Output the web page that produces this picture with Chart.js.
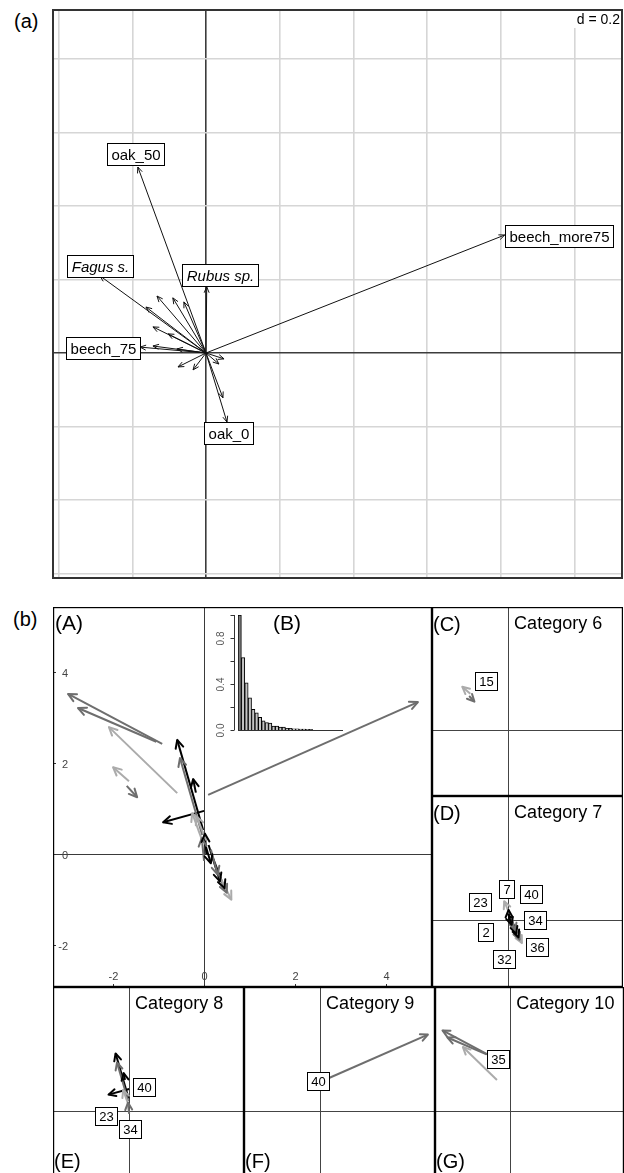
<!DOCTYPE html>
<html>
<head>
<meta charset="utf-8">
<script src="https://cdn.jsdelivr.net/npm/chart.js@4.4.0/dist/chart.umd.min.js"></script>
<style>
html,body{margin:0;padding:0;background:#fff;overflow:hidden;width:624px;height:1173px;}
#wrap{position:relative;width:624px;height:1173px;font-family:"Liberation Sans",Arial,sans-serif;color:#000;}
canvas{position:absolute;}
.plab{position:absolute;font-size:20px;line-height:20px;}
</style>
</head>
<body>
<div id="wrap">
  <div class="plab" style="left:14px;top:11px">(a)</div>
  <div class="plab" style="left:13px;top:609px">(b)</div>
  <canvas id="cA" width="571" height="570" style="left:52px;top:9px"></canvas>
  <canvas id="cMain" width="379" height="380" style="left:53px;top:607px"></canvas>
  <canvas id="cEig" width="145" height="135" style="left:205px;top:605px"></canvas>
  <canvas id="c6" width="191" height="189" style="left:432px;top:607px"></canvas>
  <canvas id="c7" width="191" height="191" style="left:432px;top:796px"></canvas>
  <canvas id="c8" width="191" height="190" style="left:53px;top:987px"></canvas>
  <canvas id="c9" width="191" height="190" style="left:244px;top:987px"></canvas>
  <canvas id="c10" width="189" height="190" style="left:435px;top:987px"></canvas>
</div>
<script>
// ================= DATA =================
// (a) correlation circle / biplot arrows
const biplotNames  = ["beech_more75", "oak_50", "Fagus s.", "Rubus sp.", "beech_75", "oak_0"];
const biplotTipX   = [0.811, -0.185, -0.288, 0.002, -0.179, 0.057];
const biplotTipY   = [0.321,  0.506,  0.210, 0.180,  0.016, -0.188];
const biplotLabelX = [0.958, -0.190, -0.288, 0.038, -0.280, 0.060];
const biplotLabelY = [0.318,  0.541,  0.237, 0.212,  0.014, -0.218];
const speciesNames = ["Fagus s.", "Rubus sp."];           // written in italics
const otherTipX = [-0.133, -0.090, -0.060, -0.163, -0.144, -0.103, -0.144, -0.079, -0.076, -0.035, 0.049, 0.046, 0.035];
const otherTipY = [ 0.155,  0.150,  0.139,  0.125,  0.071,  0.052,  0.019,  0.011, -0.038, -0.046, -0.016, -0.122, -0.030];
const gridTicksX = [-0.4, -0.2, 0, 0.2, 0.4, 0.6, 0.8, 1.0];
const gridTicksY = [-0.6, -0.4, -0.2, 0, 0.2, 0.4, 0.6, 0.8];
const gridLabel = "d = 0.2";

// (b) trajectories: category, period (1 light, 2 dark, 3 black), start and end
const trajCategory = [6, 6,  7, 7, 7, 7, 7, 7, 7, 7,  8, 8, 8, 8, 8, 8,  9,  10, 10, 10];
const trajPeriod   = [1, 2,  1, 3, 2, 3, 2, 1, 3, 3,  3, 2, 3, 3, 1, 2,  2,  2, 2, 1];
const trajX0 = [-1.65, -1.70,  0.05, 0.00, 0.15, 0.20, 0.30, 0.35, 0.10, 0.05,  -0.02, -0.04, 0.00, -0.18, -0.02, 0.00,  0.09,  -0.92, -1.05, -0.59];
const trajY0 = [ 1.60,  1.50,  0.30, 0.30, 0.10, -0.10, -0.40, -0.50, 0.20, 0.00,  0.53, 0.42, 0.95, 1.35, 0.24, -0.15,  1.30,  2.42, 2.47, 1.34];
const trajX1 = [-2.00, -1.47, -0.17, 0.15, 0.30, 0.45, 0.50, 0.60, 0.35, 0.02,  -0.59, -0.53, -0.90, -0.24, -0.26, -0.05,  4.70,  -2.99, -2.77, -2.09];
const trajY1 = [ 1.91,  1.25,  0.83, -0.20, -0.45, -0.75, -0.85, -1.00, -0.60, 0.45,  2.51, 2.11, 0.70, 1.65, 0.90, 0.35,  3.34,  3.52, 3.21, 2.79];

const categories = [6, 7, 8, 9, 10];
const panelLetters = ["(C)", "(D)", "(E)", "(F)", "(G)"];
const catLabelCategory = [6, 7, 7, 7, 7, 7, 7, 7, 8, 8, 8, 9, 10];
const catLabelText = ["15", "7", "40", "23", "34", "2", "36", "32", "40", "23", "34", "40", "35"];
const catLabelX = [-0.96, -0.07, 0.98, -1.24, 1.18, -0.98, 1.27, -0.17, 0.63, -1.00, 0.02, -0.09, -0.55];
const catLabelY = [ 2.14,  1.38, 1.16,  0.79, 0.02, -0.50, -1.18, -1.70, 1.05, -0.22, -0.81, 1.31, 2.25];

const axisTicksB = [-2, 0, 2, 4];
const rangeX = [-3.32, 5.01];
const rangeY = [-2.92, 5.43];

// (B) inset: eigenvalues
const eigenvalues = [1.0, 0.63, 0.41, 0.28, 0.18, 0.15, 0.11, 0.08, 0.065, 0.06, 0.035, 0.035, 0.025, 0.025, 0.015, 0.015, 0.01, 0.01, 0.008, 0.008, 0.006, 0.005, 0, 0, 0, 0, 0, 0, 0, 0, 0];
const eigenTicks = [0, 0.2, 0.4, 0.6, 0.8, 1.0];
const eigenTickLabels = ["0.0", "", "0.4", "", "0.8", ""];

// ================= HELPERS =================
const FONT = '"Liberation Sans", Arial, sans-serif';
const periodColors = {1: '#ababab', 2: '#6e6e6e', 3: '#000000'};

function arrowDataset(x0, y0, x1, y1, color, width) {
  return {data: [{x: x0, y: y0}, {x: x1, y: y1}], showLine: true, borderColor: color,
          borderWidth: width, pointRadius: 0, pointHoverRadius: 0, fill: false, tension: 0};
}

function arrowHeadsPlugin(len, angle) {
  return {id: 'arrowHeads', afterDatasetsDraw(chart) {
    const ctx = chart.ctx; ctx.save();
    chart.data.datasets.forEach((ds, i) => {
      const m = chart.getDatasetMeta(i);
      if (!m.data || m.data.length < 2) return;
      const a = m.data[0], b = m.data[1];
      const ang = Math.atan2(b.y - a.y, b.x - a.x);
      ctx.strokeStyle = ds.borderColor; ctx.lineWidth = ds.borderWidth;
      ctx.lineCap = 'round'; ctx.lineJoin = 'round';
      ctx.beginPath();
      ctx.moveTo(b.x - len * Math.cos(ang - angle), b.y - len * Math.sin(ang - angle));
      ctx.lineTo(b.x, b.y);
      ctx.lineTo(b.x - len * Math.cos(ang + angle), b.y - len * Math.sin(ang + angle));
      ctx.stroke();
    });
    ctx.restore();
  }};
}

function boxLabelsPlugin(items, size, padX, boxH) {
  return {id: 'boxLabels', afterDatasetsDraw(chart) {
    const {ctx, scales: {x, y}} = chart; ctx.save();
    items.forEach(it => {
      ctx.font = (it.italic ? 'italic ' : '') + size + 'px ' + FONT;
      const w = Math.round(ctx.measureText(it.text).width + padX * 2), h = boxH;
      const px = x.getPixelForValue(it.x), py = y.getPixelForValue(it.y);
      const l = Math.round(px - w / 2) + 0.5, t = Math.round(py - h / 2) + 0.5;
      ctx.fillStyle = '#fff'; ctx.fillRect(l, t, w, h);
      ctx.strokeStyle = '#000'; ctx.lineWidth = 1; ctx.strokeRect(l, t, w, h);
      ctx.fillStyle = '#000'; ctx.textAlign = 'center'; ctx.textBaseline = 'middle';
      ctx.fillText(it.text, l + w / 2, t + h / 2 + 1);
    });
    ctx.restore();
  }};
}

function framePlugin(width, color) {
  return {id: 'frame', afterDraw(chart) {
    const {ctx, chartArea: a} = chart; ctx.save();
    ctx.strokeStyle = color; ctx.lineWidth = width;
    ctx.strokeRect(a.left + width / 2, a.top + width / 2, a.right - a.left - width, a.bottom - a.top - width);
    ctx.restore();
  }};
}

function zeroAxesPlugin(color, width) {
  return {id: 'zeroAxes', beforeDatasetsDraw(chart) {
    const {ctx, chartArea: a, scales: {x, y}} = chart; ctx.save();
    ctx.strokeStyle = color; ctx.lineWidth = width;
    const px = Math.round(x.getPixelForValue(0)) + 0.5, py = Math.round(y.getPixelForValue(0)) + 0.5;
    ctx.beginPath(); ctx.moveTo(px, a.top); ctx.lineTo(px, a.bottom);
    ctx.moveTo(a.left, py); ctx.lineTo(a.right, py); ctx.stroke();
    ctx.restore();
  }};
}

// texts: {text, x, y, size, fromAxis}
function panelTextPlugin(texts) {
  return {id: 'panelText', afterDraw(chart) {
    const {ctx, chartArea: a, scales: {x}} = chart; ctx.save();
    ctx.fillStyle = '#000'; ctx.textAlign = 'left'; ctx.textBaseline = 'middle';
    texts.forEach(t => {
      ctx.font = t.size + 'px ' + FONT;
      const px = t.fromAxis ? x.getPixelForValue(0) + t.x : a.left + t.x;
      ctx.fillText(t.text, px, a.top + t.y);
    });
    ctx.restore();
  }};
}

function baseOptions(xmin, xmax, ymin, ymax) {
  return {
    responsive: false, animation: false, events: [],
    layout: {padding: 0},
    plugins: {legend: {display: false}, tooltip: {enabled: false}},
    scales: {
      x: {type: 'linear', display: false, min: xmin, max: xmax},
      y: {type: 'linear', display: false, min: ymin, max: ymax}
    }
  };
}

// ================= (a) =================
(function () {
  const datasets = [];
  otherTipX.forEach((v, i) => datasets.push(arrowDataset(0, 0, v, otherTipY[i], '#111', 1)));
  biplotTipX.forEach((v, i) => datasets.push(arrowDataset(0, 0, v, biplotTipY[i], '#111', 1)));
  const labels = biplotNames.map((n, i) => ({text: n, x: biplotLabelX[i], y: biplotLabelY[i], italic: speciesNames.includes(n)}));
  const gridColor = c => (c.tick && c.tick.value === 0) ? '#3c3c3c' : '#d6d6d6';
  const opts = {
    responsive: false, animation: false, events: [],
    layout: {padding: 0},
    plugins: {legend: {display: false}, tooltip: {enabled: false}},
    scales: {
      x: {type: 'linear', min: -0.418, max: 1.132,
          afterBuildTicks: s => { s.ticks = gridTicksX.map(v => ({value: v})); },
          afterFit: s => { s.height = 0; },
          ticks: {display: false}, border: {display: false},
          grid: {drawTicks: false, color: gridColor, lineWidth: 1.6}},
      y: {type: 'linear', min: -0.615, max: 0.936,
          afterBuildTicks: s => { s.ticks = gridTicksY.map(v => ({value: v})); },
          afterFit: s => { s.width = 0; },
          ticks: {display: false}, border: {display: false},
          grid: {drawTicks: false, color: gridColor, lineWidth: 1.6}}
    }
  };
  const dLabel = {id: 'dLabel', afterDraw(chart) {
    const {ctx, chartArea: a} = chart; ctx.save();
    ctx.font = '14px ' + FONT;
    const w = ctx.measureText(gridLabel).width;
    ctx.fillStyle = '#fff'; ctx.fillRect(a.right - w - 6, a.top + 2, w + 4, 17);
    ctx.fillStyle = '#000'; ctx.textAlign = 'right'; ctx.textBaseline = 'middle';
    ctx.fillText(gridLabel, a.right - 3, a.top + 11);
    ctx.restore();
  }};
  new Chart(document.getElementById('cA'), {
    type: 'scatter', data: {datasets}, options: opts,
    plugins: [arrowHeadsPlugin(6, 0.4), boxLabelsPlugin(labels, 15, 4, 22), dLabel, framePlugin(2, '#333')]
  });
})();

// ================= (b) panel A =================
(function () {
  const datasets = [];
  [1, 2, 3].forEach(p => trajPeriod.forEach((q, i) => {
    if (q === p) datasets.push(arrowDataset(trajX0[i], trajY0[i], trajX1[i], trajY1[i], periodColors[q], 2));
  }));
  const ticksPlugin = {id: 'ticksA', afterDraw(chart) {
    const {ctx, chartArea: a, scales: {x, y}} = chart; ctx.save();
    ctx.strokeStyle = '#333'; ctx.lineWidth = 1; ctx.fillStyle = '#444';
    ctx.font = '11px ' + FONT;
    axisTicksB.forEach(v => {
      const py = Math.round(y.getPixelForValue(v)) + 0.5;
      ctx.beginPath(); ctx.moveTo(a.left, py); ctx.lineTo(a.left + 3, py); ctx.stroke();
      ctx.textAlign = 'right'; ctx.textBaseline = 'middle';
      ctx.fillText(String(v), a.left + 15, py + 1);
      const px = Math.round(x.getPixelForValue(v)) + 0.5;
      ctx.beginPath(); ctx.moveTo(px, a.bottom); ctx.lineTo(px, a.bottom - 3); ctx.stroke();
      ctx.textAlign = 'center'; ctx.textBaseline = 'middle';
      ctx.fillText(String(v), px, a.bottom - 10);
    });
    ctx.restore();
  }};
  new Chart(document.getElementById('cMain'), {
    type: 'scatter', data: {datasets},
    options: baseOptions(rangeX[0], rangeX[1], rangeY[0], rangeY[1]),
    plugins: [zeroAxesPlugin('#3a3a3a', 1), arrowHeadsPlugin(9, 0.45), ticksPlugin,
              panelTextPlugin([{text: '(A)', x: 2, y: 17, size: 21}, {text: '(B)', x: 220, y: 17, size: 21}]),
              framePlugin(1.2, '#000')]
  });
})();

// ================= (B) eigenvalue inset =================
(function () {
  const axisPlugin = {id: 'eigAxis', afterDraw(chart) {
    const {ctx, chartArea: a, scales: {y}} = chart; ctx.save();
    const ax = Math.round(a.left - 4) + 0.5;
    ctx.strokeStyle = '#333'; ctx.lineWidth = 1;
    ctx.beginPath(); ctx.moveTo(ax, y.getPixelForValue(0)); ctx.lineTo(ax, y.getPixelForValue(eigenTicks[eigenTicks.length - 1])); ctx.stroke();
    const by = Math.round(y.getPixelForValue(0)) + 0.5;
    ctx.beginPath(); ctx.moveTo(a.left, by); ctx.lineTo(a.right, by); ctx.stroke();
    ctx.font = '10px ' + FONT; ctx.fillStyle = '#555'; ctx.textAlign = 'center'; ctx.textBaseline = 'middle';
    eigenTicks.forEach((v, i) => {
      const py = Math.round(y.getPixelForValue(v)) + 0.5;
      ctx.beginPath(); ctx.moveTo(ax - 4, py); ctx.lineTo(ax, py); ctx.stroke();
      if (eigenTickLabels[i]) {
        ctx.save(); ctx.translate(ax - 13, py); ctx.rotate(-Math.PI / 2);
        ctx.fillText(eigenTickLabels[i], 0, 0); ctx.restore();
      }
    });
    ctx.restore();
  }};
  new Chart(document.getElementById('cEig'), {
    type: 'bar',
    data: {labels: eigenvalues.map((_, i) => String(i + 1)),
           datasets: [{data: eigenvalues, backgroundColor: eigenvalues.map((_, i) => i === 0 ? '#7a7a7a' : '#c4c4c4'),
                       borderColor: '#000', borderWidth: 1, barPercentage: 1, categoryPercentage: 1}]},
    options: {
      responsive: false, animation: false, events: [],
      layout: {padding: {left: 33, right: 7, top: 10, bottom: 10}},
      plugins: {legend: {display: false}, tooltip: {enabled: false}},
      scales: {x: {display: false}, y: {display: false, min: 0, max: 1.0}}
    },
    plugins: [axisPlugin]
  });
})();

// ================= (b) category panels =================
categories.forEach((cat, k) => {
  const datasets = [];
  [1, 2, 3].forEach(p => trajCategory.forEach((c, i) => {
    if (c === cat && trajPeriod[i] === p) datasets.push(arrowDataset(trajX0[i], trajY0[i], trajX1[i], trajY1[i], periodColors[p], 2));
  }));
  const labels = [];
  catLabelCategory.forEach((c, i) => { if (c === cat) labels.push({text: catLabelText[i], x: catLabelX[i], y: catLabelY[i]}); });
  const bottomLetter = cat >= 8;
  const texts = [
    {text: panelLetters[k], x: 1, y: bottomLetter ? 175 : 18, size: 20},
    {text: 'Category ' + cat, x: 6, y: 17, size: 18, fromAxis: true}
  ];
  new Chart(document.getElementById('c' + cat), {
    type: 'scatter', data: {datasets},
    options: baseOptions(rangeX[0], rangeX[1], rangeY[0], rangeY[1]),
    plugins: [zeroAxesPlugin('#444', 1), arrowHeadsPlugin(8, 0.45), boxLabelsPlugin(labels, 13, 4, 18),
              panelTextPlugin(texts), framePlugin(1.2, '#000')]
  });
});
</script>
</body>
</html>
